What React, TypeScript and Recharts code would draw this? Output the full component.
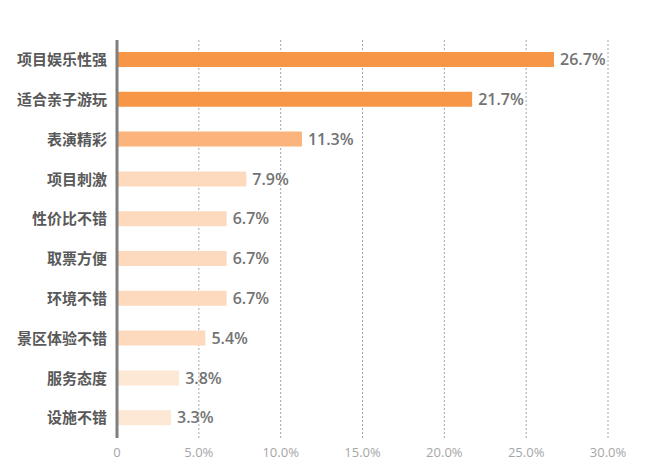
import { BarChart, Bar, XAxis, YAxis, CartesianGrid, LabelList, Cell } from 'recharts';

const categories = ['项目娱乐性强', '适合亲子游玩', '表演精彩', '项目刺激', '性价比不错', '取票方便', '环境不错', '景区体验不错', '服务态度', '设施不错'];
const shares = [0.267, 0.217, 0.113, 0.079, 0.067, 0.067, 0.067, 0.054, 0.038, 0.033];
const barColors = ['#F79646', '#F79646', '#FBB47B', '#FDDABD', '#FDDABD', '#FDDABD', '#FDDABD', '#FDDABD', '#FDE7D5', '#FDE7D5'];
const xTicks = [0, 0.05, 0.1, 0.15, 0.2, 0.25, 0.3];

const data = categories.map((name, i) => ({ name, value: shares[i], color: barColors[i] }));

const pct = (v: number) => (v === 0 ? '0' : `${(v * 100).toFixed(1)}%`);

export default function App() {
  return (
    <div style={{ position: 'absolute', left: 0, top: 0, width: 650, height: 468, background: '#fff' }}>
      <BarChart
        width={650}
        height={468}
        data={data}
        layout="vertical"
        margin={{ top: 40, right: 42, bottom: 0, left: 0 }}
        barSize={15}
      >
        <CartesianGrid horizontal={false} stroke="#A6A6A6" strokeDasharray="2 2" />
        <XAxis
          type="number"
          domain={[0, 0.3]}
          ticks={xTicks}
          tickFormatter={pct}
          axisLine={false}
          tickLine={false}
          height={30}
          tickMargin={4}
          tick={{ fontSize: 13, fill: '#A6A6A6', fontFamily: '"Open Sans", sans-serif' }}
        />
        <YAxis
          type="category"
          dataKey="name"
          width={117}
          tickLine={false}
          tickMargin={4}
          axisLine={{ stroke: '#7F7F7F', strokeWidth: 3 }}
          tick={{ fontSize: 15, fill: '#595959', fontWeight: 'bold', fontFamily: '"Noto Sans CJK SC", sans-serif' }}
        />
        <Bar dataKey="value" isAnimationActive={false}>
          {data.map((d, i) => (
            <Cell key={`cell-${i}`} fill={d.color} />
          ))}
          <LabelList
            dataKey="value"
            position="right"
            offset={6}
            formatter={(v: number) => pct(v)}
            style={{ fontSize: 16, fill: '#737373', fontWeight: 600, fontFamily: '"Open Sans", sans-serif' }}
          />
        </Bar>
      </BarChart>
    </div>
  );
}
